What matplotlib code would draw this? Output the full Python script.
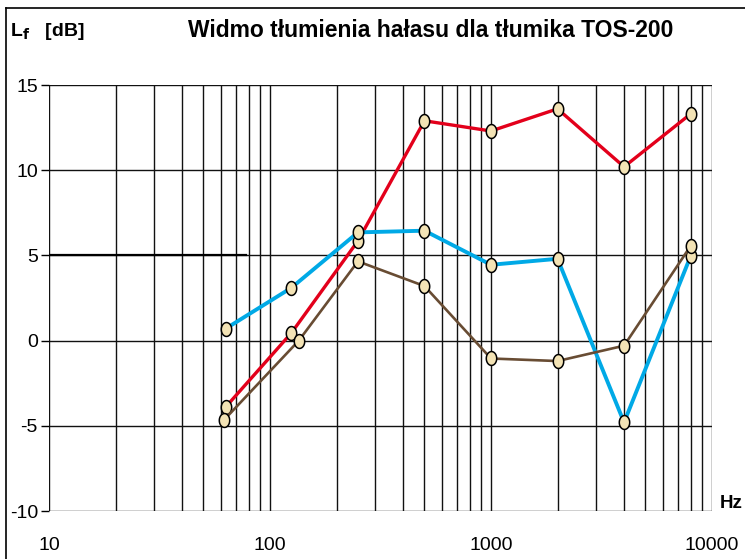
import matplotlib
matplotlib.use('Agg')
import matplotlib.pyplot as plt
from matplotlib.path import Path
from matplotlib.lines import Line2D
import numpy as np

plt.rcParams['font.family'] = ['Liberation Sans', 'DejaVu Sans']

freq = [63, 125, 250, 500, 1000, 2000, 4000, 8000]
freq_brown = [62, 135, 250, 500, 1000, 2000, 4000, 8000]
red = [-3.9, 0.45, 5.85, 12.9, 12.3, 13.6, 10.2, 13.3]
blue = [0.7, 3.1, 6.35, 6.45, 4.45, 4.8, -4.8, 4.95]
brown = [-4.65, 0.0, 4.65, 3.2, -1.05, -1.2, -0.3, 5.55]

y_ticks = [-10, -5, 0, 5, 10, 15]
x_ticks = [10, 100, 1000, 10000]

# elliptical marker (taller than wide)
t = np.linspace(0, 2 * np.pi, 40)
ellipse = Path(np.column_stack([0.75 * np.cos(t), np.sin(t)]), closed=True)

fig = plt.figure(figsize=(7.45, 5.59), dpi=100)
ax = fig.add_axes([49 / 745, 48 / 559, 663 / 745, 426 / 559])

ax.set_xscale('log')
ax.set_xlim(10, 10000)
ax.set_ylim(-10, 15)

# grid
for dec in [10, 100, 1000]:
    for m in range(1, 10):
        ax.axvline(dec * m, color='#111111', lw=1.0, zorder=1)
ax.axvline(10000, color='#111111', lw=1.0, zorder=1)
for y in y_ticks:
    ax.axhline(y, color='#111111', lw=1.0, zorder=1)
ax.plot([10, 78], [5, 5], color='black', lw=1.6, zorder=1)

mk = dict(marker=ellipse, ms=10, mfc='#F3E3B5', mec='black', mew=1.1, zorder=3)
ax.plot(freq, red, color='#E3001B', lw=2.4, **mk)
ax.plot(freq, blue, color='#00A9E6', lw=2.8, **mk)
ax.plot(freq_brown, brown, color='#684C33', lw=1.9, **mk)

for s in ax.spines.values():
    s.set_visible(False)

ax.set_yticks(y_ticks)
ax.set_yticklabels([str(v) for v in y_ticks])
ax.set_xticks(x_ticks)
ax.set_xticklabels([str(v) for v in x_ticks])
ax.xaxis.set_minor_locator(matplotlib.ticker.NullLocator())
ax.tick_params(axis='y', length=6, width=1, color='black', labelsize=14, pad=2)
ax.tick_params(axis='x', length=0, labelsize=14, pad=19)

fig.text(0.5785, 0.945, 'Widmo tłumienia hałasu dla tłumika TOS-200',
         ha='center', va='center', fontsize=16.5, fontweight='bold')
fig.text(10 / 745, 1 - 31 / 559, r'L$_\mathbf{f}$   [dB]', ha='left', va='center',
         fontsize=14, fontweight='bold')
fig.text(743 / 745, 1 - 503 / 559, 'Hz', ha='right', va='center', fontsize=13.5,
         fontweight='bold')

# outer frame (left and top)
fig.add_artist(Line2D([6 / 745, 6 / 745], [0, 1 - 8 / 559], transform=fig.transFigure,
                      color='black', lw=1.2))
fig.add_artist(Line2D([6 / 745, 1], [1 - 8 / 559, 1 - 8 / 559], transform=fig.transFigure,
                      color='black', lw=1.2))

fig.savefig('out.png', dpi=100)
